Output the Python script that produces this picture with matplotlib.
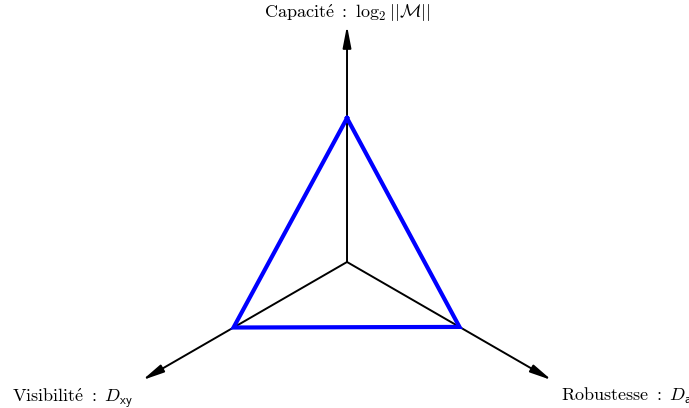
import numpy as np
import matplotlib
matplotlib.use('Agg')
import matplotlib.pyplot as plt

plt.rcParams['mathtext.fontset'] = 'cm'

# axes of the diagram (angle in degrees) and the scores on each
axis_names = ['capacite', 'visibilite', 'robustesse']
axis_angles = [90, 210, 330]
axis_labels = [r'$\mathrm{Capacit\acute{e}\ :\ }\log_2||\mathcal{M}||$',
               r'$\mathrm{Visibilit\acute{e}\ :\ }D_{\mathsf{xy}}$',
               r'$\mathrm{Robustesse\ :\ }D_{\mathsf{a}}$']
scores = [0.615, 0.56, 0.555]

fig = plt.figure(figsize=(6.89, 4.08), dpi=100)
ax = fig.add_axes([0, 0, 1, 1])
ax.set_xlim(-1.483, 1.4615)
ax.set_ylim(-0.624, 1.1197)
ax.axis('off')

rad = np.deg2rad(axis_angles)
ux, uy = np.cos(rad), np.sin(rad)

# axes with arrows
for x, y in zip(ux, uy):
    ax.annotate('', xy=(x * 1.01, y * 1.01), xytext=(0, 0),
                arrowprops=dict(arrowstyle='-|>,head_length=1.3,head_width=0.25',
                                color='black', lw=1.4, shrinkA=0, shrinkB=0,
                                mutation_scale=10))

# score triangle
px = np.append(ux * scores, ux[0] * scores[0])
py = np.append(uy * scores, uy[0] * scores[0])
ax.plot(px, py, color='#0000ff', lw=3, solid_joinstyle='miter', zorder=3)

# labels
ax.text(ux[0], uy[0] + 0.015, axis_labels[0], ha='center', va='bottom', fontsize=13)
ax.text(ux[1] - 0.05, uy[1] - 0.03, axis_labels[1], ha='right', va='top', fontsize=13)
ax.text(ux[2] + 0.05, uy[2] - 0.03, axis_labels[2], ha='left', va='top', fontsize=13)

fig.savefig('out.png', dpi=100)
